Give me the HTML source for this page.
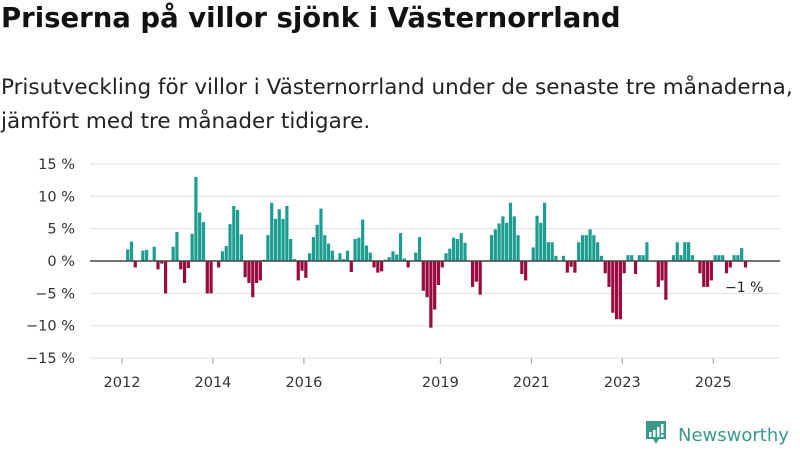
<!DOCTYPE html>
<html><head><meta charset="utf-8">
<style>
body{margin:0;background:#fff;font-family:"DejaVu Sans","Liberation Sans",sans-serif;}
#wrap{position:relative;width:800px;height:450px;overflow:hidden;}
h1{position:absolute;left:1px;top:2px;margin:0;font-size:27.5px;font-weight:bold;color:#111;white-space:nowrap;}
p.sub{position:absolute;left:1px;top:71px;margin:0;font-size:21.5px;line-height:34px;color:#222;white-space:nowrap;}
</style></head>
<body><div id="wrap">
<h1>Priserna på villor sjönk i Västernorrland</h1>
<p class="sub">Prisutveckling för villor i Västernorrland under de senaste tre månaderna,<br>jämfört med tre månader tidigare.</p>
<svg id="chart" width="800" height="450" style="position:absolute;left:0;top:0">
<g id="grid"></g><g id="bars"></g><g id="axes"></g>
<text x="725" y="292" font-size="14" fill="#222" font-family="DejaVu Sans, sans-serif">−1 %</text>
<g>
<path d="M646 421 h20 v18 h-7 l-3 5 l-3 -5 h-7 z" fill="#3a9a8a"/>
<rect x="649" y="432" width="2.5" height="5" fill="#fff"/><rect x="653" y="430" width="2.5" height="7" fill="#fff"/><rect x="657" y="427" width="2.5" height="10" fill="#fff"/><rect x="661" y="424" width="2.5" height="9" fill="#fff"/><rect x="661" y="434.5" width="2.5" height="2.5" fill="#fff"/>
<text x="678" y="441" font-size="18" fill="#3a9a8a" font-family="DejaVu Sans, sans-serif">Newsworthy</text>
</g>
</svg>
</div>
<script>
const startIndex = 1; // Feb 2012 (months since Jan 2012)
const values = [
1.8,3.0,-1.0,0,1.6,1.7,0,2.2,-1.3,-0.4,-5,
0,2.2,4.5,-1.3,-3.4,-1.1,4.2,13,7.5,6,-5,-5,
0,-1,1.5,2.3,5.7,8.5,7.9,4.1,-2.5,-3.4,-5.6,-3.4,
-3,0.2,4,9,6.5,8,6.5,8.5,3.4,0.3,-3,-1.5,
-2.6,1.2,3.7,5.6,8.1,4,2.7,1.6,0.2,1.2,0.3,1.6,
-1.7,3.4,3.6,6.4,2.4,1.3,-1,-1.8,-1.6,0.2,0.6,1.5,
1,4.3,0.4,-1,0,1.3,3.7,-4.6,-5.6,-10.3,-7.5,-3.7,
-1,1.2,1.9,3.6,3.4,4.3,2.8,0,-4,-3.2,-5.2,0,
0,4,4.9,5.8,6.9,5.9,9,6.9,4,-2,-3,0,
2.1,7,5.9,9,2.9,2.9,0.8,0,0.8,-1.8,-0.9,-1.8,
2.9,4,4,4.9,4,2.9,0.8,-1.9,-4,-8,-9,-9,
-1.9,0.9,0.9,-2,0.9,0.9,2.9,0,0,-4,-3,-6,
0,0.9,2.9,0.9,2.9,2.9,0.9,0,-1.9,-4,-4,-3,
0.9,0.9,0.9,-1.9,-1,0.9,0.9,2,-1
];
const yTicks = [15,10,5,0,-5,-10,-15];
const yTickLabels = ["15 %","10 %","5 %","0 %","−5 %","−10 %","−15 %"];
const xYears = [2012,2014,2016,2019,2021,2023,2025];

const NS="http://www.w3.org/2000/svg";
function xScale(m){return 122 + m*3.79;}
function yScale(v){return 261 - v*6.47;}
function mk(tag,attrs,parent){const e=document.createElementNS(NS,tag);for(const k in attrs)e.setAttribute(k,attrs[k]);parent.appendChild(e);return e;}
const grid=document.getElementById('grid'),bars=document.getElementById('bars'),axes=document.getElementById('axes');
yTicks.forEach((t,i)=>{
  if(t!==0){const l=mk('line',{x1:90,x2:780,y1:yScale(t),y2:yScale(t),stroke:'#e0e0e0','stroke-width':1},grid);
  
  }
  const tx=mk('text',{x:75,y:yScale(t)+5,'text-anchor':'end','font-size':14.5,fill:'#333','font-family':'DejaVu Sans, sans-serif'},axes);
  tx.textContent=yTickLabels[i];
  
  
});
values.forEach((v,i)=>{
  const m=startIndex+i;
  const y0=yScale(0),y1=yScale(v);
  const r=mk('rect',{x:xScale(m)+0.3,y:Math.min(y0,y1),width:3.2,height:Math.abs(y1-y0),fill:v>=0?'#1c9d90':'#990a3e'},bars);
  
  
});
const z=mk('line',{x1:90,x2:780,y1:yScale(0),y2:yScale(0),stroke:'#444','stroke-width':1.5},axes);


xYears.forEach(yr=>{
  const x=xScale((yr-2012)*12);
  const tk=mk('line',{x1:x,x2:x,y1:358,y2:364,stroke:'#999','stroke-width':1},axes);
  
  
  const tx=mk('text',{x:x,y:387,'text-anchor':'middle','font-size':14.5,fill:'#333','font-family':'DejaVu Sans, sans-serif'},axes);
  tx.textContent=yr;
  
  
});
</script>
</body></html>
